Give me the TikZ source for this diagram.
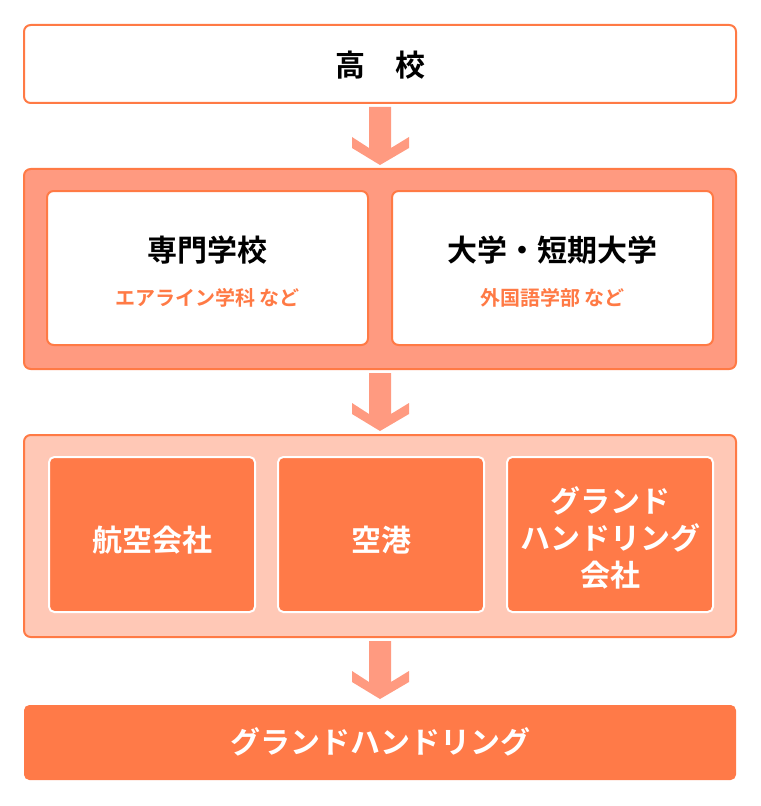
\documentclass[tikz,border=0pt]{standalone}
\usepackage{fontspec}
\setmainfont{Noto Sans CJK JP}[BoldFont={* Bold}]
\definecolor{bord}{HTML}{FF7A45}
\definecolor{arr}{HTML}{FF9A80}
\definecolor{pale}{HTML}{FFC8B6}
\definecolor{fillo}{HTML}{FF7A48}
\begin{document}
\begin{tikzpicture}[x=0.75pt,y=-0.75pt,
  outer/.style={draw=bord,line width=1.5pt,rounded corners=5pt},
  white/.style={draw=bord,line width=1.5pt,fill=white,rounded corners=5pt},
  tile/.style={draw=white,line width=1.5pt,fill=fillo,rounded corners=4pt},
  tt/.style={font=\bfseries\fontsize{22.5}{27}\selectfont,align=center},
  sub/.style={font=\bfseries\fontsize{15}{18}\selectfont,text=bord}]
\useasboundingbox (0,0) rectangle (760,806);
\newcommand{\myarrow}[1]{\fill[arr] (369,#1) -- (391,#1) -- (391,#1+41) -- (409,#1+30) -- (409,#1+41) -- (380,#1+58) -- (352,#1+41) -- (352,#1+30) -- (369,#1+41) -- cycle;}
\draw[white] (24,25) rectangle (736,103);
\node[tt] (koukou) at (380,65) {高　校};
\myarrow{107}
\draw[outer,fill=arr] (24,169) rectangle (736,369);
\draw[white] (47,191) rectangle (368,345);
\draw[white] (392,191) rectangle (713,345);
\node[tt] (senmon) at (207.5,250) {専門学校};
\node[sub] (senmons) at (207.5,298) {エアライン学科 など};
\node[tt] (daigaku) at (552.5,250) {大学・短期大学};
\node[sub] (daigakus) at (552.5,298) {外国語学部 など};
\myarrow{373}
\draw[outer,fill=pale] (24,435) rectangle (736,637);
\draw[tile] (49,457) rectangle (255,612);
\draw[tile] (278,457) rectangle (484,612);
\draw[tile] (507,457) rectangle (713,612);
\node[tt,text=white] (koku) at (152,540) {航空会社};
\node[tt,text=white] (kuko) at (381,540) {空港};
\node[tt,text=white,font=\bfseries\fontsize{22.5}{28}\selectfont] (gh) at (610,538) {グランド\\ハンドリング\\会社};
\myarrow{641}
\fill[fillo,rounded corners=4pt] (24,705) rectangle (736,780);
\node[tt,text=white] (ghb) at (380,742) {グランドハンドリング};
\end{tikzpicture}
\end{document}
